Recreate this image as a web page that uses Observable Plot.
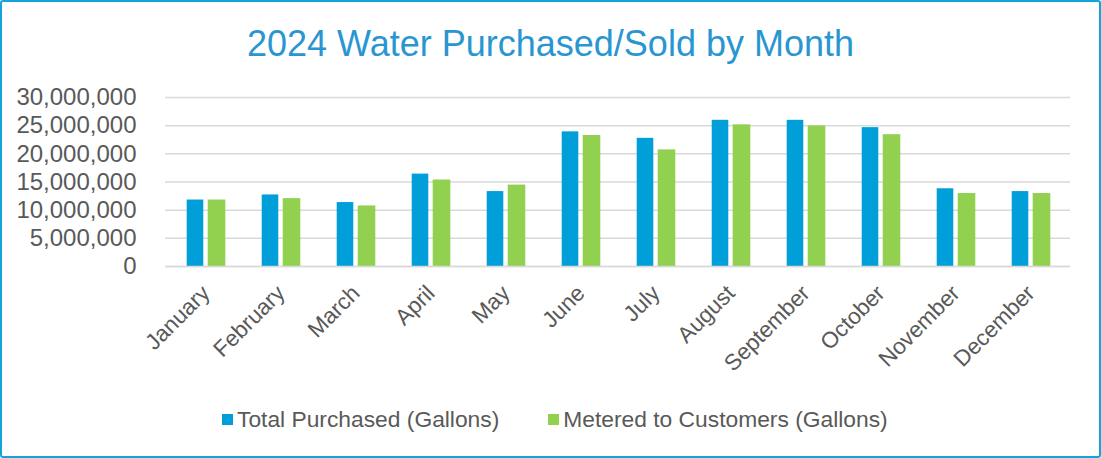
<!DOCTYPE html>
<html>
<head>
<meta charset="utf-8">
<script src="https://cdn.jsdelivr.net/npm/d3@7"></script>
<script src="https://cdn.jsdelivr.net/npm/@observablehq/plot@0.6"></script>
<style>
  html, body { margin: 0; padding: 0; background: #fff; }
  #frame {
    position: relative; width: 1101px; height: 458px; box-sizing: border-box;
    border: 2px solid #14A3DD; border-radius: 3px; background: #fff; overflow: hidden;
    font-family: "Liberation Sans", Arial, sans-serif;
  }
  #title {
    position: absolute; left: 0; width: 1097px; top: 24px; text-align: center;
    font-size: 36px; line-height: 35px; color: #2A96D1; white-space: nowrap;
  }
  #chart { position: absolute; left: 0; top: 73px; }
  #legend {
    position: absolute; left: 220px; top: 405px; height: 24px; display: flex; align-items: center;
    font-size: 22.8px; color: #595959; white-space: nowrap;
  }
  .item { display: flex; align-items: center; margin-right: 49px; }
  .sw { width: 11px; height: 11px; margin-right: 4px; }
</style>
</head>
<body>
<div id="frame">
  <div id="title"></div>
  <div id="chart"></div>
  <div id="legend"></div>
</div>
<script>
const titleText = "2024 Water Purchased/Sold by Month";
const months = ["January","February","March","April","May","June","July","August","September","October","November","December"];
const purchased = [11800000, 12700000, 11350000, 16400000, 13300000, 23900000, 22750000, 25950000, 25950000, 24650000, 13800000, 13300000];
const metered   = [11800000, 12050000, 10750000, 15350000, 14450000, 23250000, 20700000, 25150000, 24950000, 23400000, 12950000, 12950000];
const seriesNames = ["Total Purchased (Gallons)", "Metered to Customers (Gallons)"];
const seriesColors = ["#009FDA", "#92D050"];
const yTicks = [0, 5000000, 10000000, 15000000, 20000000, 25000000, 30000000];

document.getElementById("title").textContent = titleText;

const rowsP = months.map((m, i) => ({month: m, value: purchased[i]}));
const rowsM = months.map((m, i) => ({month: m, value: metered[i]}));

const W = 1097, H = 320;
const mL = 163, mR = 29;
const bw = (W - mL - mR) / months.length;
const half = bw / 2;

const chart = Plot.plot({
  width: W, height: H,
  marginTop: 22, marginBottom: 129, marginLeft: mL, marginRight: mR,
  style: {color: "#595959", fontFamily: "'Liberation Sans', Arial, sans-serif", background: "transparent"},
  x: {domain: months, padding: 0},
  y: {domain: [0, 30000000]},
  marks: [
    Plot.ruleY(yTicks, {stroke: "#D9D9D9", strokeWidth: 1.5}),
    Plot.barY(rowsP, {x: "month", y: "value", fill: seriesColors[0], insetLeft: half - 19, insetRight: half + 2}),
    Plot.barY(rowsM, {x: "month", y: "value", fill: seriesColors[1], insetLeft: half + 2, insetRight: half - 20}),
    Plot.ruleY([0], {stroke: "#D9D9D9", strokeWidth: 1.5}),
    Plot.axisY({ticks: yTicks, tickSize: 0, tickPadding: 29, tickFormat: d3.format(","), fontSize: 24, label: null}),
    Plot.axisX({tickRotate: -45, tickSize: 0, tickPadding: 23, dx: 0, fontSize: 22.5, label: null})
  ]
});
document.getElementById("chart").appendChild(chart);

const legend = document.getElementById("legend");
seriesNames.forEach((name, i) => {
  const item = document.createElement("div");
  item.className = "item";
  const sw = document.createElement("span");
  sw.className = "sw";
  sw.style.background = seriesColors[i];
  const t = document.createElement("span");
  t.textContent = name;
  item.appendChild(sw); item.appendChild(t);
  legend.appendChild(item);
});
</script>
</body>
</html>
